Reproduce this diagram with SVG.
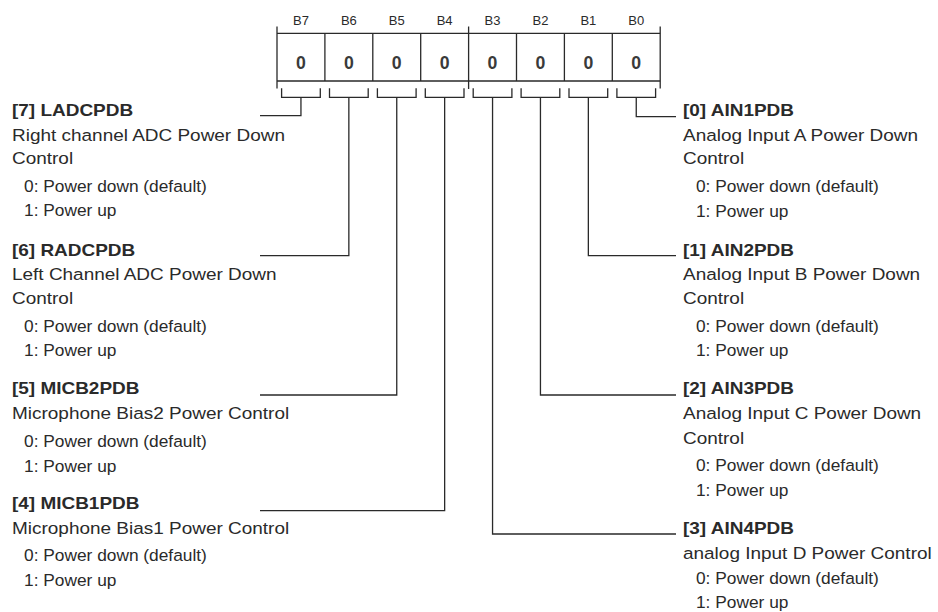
<svg xmlns="http://www.w3.org/2000/svg" width="938" height="612" viewBox="0 0 938 612">
<style>
  .ln { fill: none; stroke: #2a2a2a; stroke-width: 1.3; }
  .bl { font-family: "Liberation Sans", Arial, sans-serif; font-size: 13px; fill: #2a2a2a; text-anchor: middle; }
  .bv { font-family: "Liberation Sans", Arial, sans-serif; font-size: 19px; font-weight: bold; fill: #3a3a3a; text-anchor: middle; }
  .t { font-family: "Liberation Sans", Arial, sans-serif; font-size: 16.5px; font-weight: bold; fill: #2a2a2a; }
  .d { font-family: "Liberation Sans", Arial, sans-serif; font-size: 16.5px; fill: #2a2a2a; }
  .o { font-family: "Liberation Sans", Arial, sans-serif; font-size: 16.5px; fill: #2a2a2a; }
</style>
<rect width="938" height="612" fill="#ffffff"/>

<g id="register">
  <path class="ln" d="M277,33.3 H660.2 M277,81 H660.2"/>
  <path class="ln" d="M277,26.5 V88.5 M660.2,26.5 V88.5 M468.6,26.5 V89"/>
  <path class="ln" d="M324.9,33.3 V81 M372.8,33.3 V81 M420.7,33.3 V81 M516.5,33.3 V81 M564.4,33.3 V81 M612.3,33.3 V81"/>
  <g>
    <text class="bl" x="300.95" y="24.7">B7</text>
    <text class="bl" x="348.85" y="24.7">B6</text>
    <text class="bl" x="396.75" y="24.7">B5</text>
    <text class="bl" x="444.65" y="24.7">B4</text>
    <text class="bl" x="492.55" y="24.7">B3</text>
    <text class="bl" x="540.45" y="24.7">B2</text>
    <text class="bl" x="588.35" y="24.7">B1</text>
    <text class="bl" x="636.25" y="24.7">B0</text>
  </g>
  <g transform="scale(0.93 1)">
    <text class="bv" x="323.6" y="69">0</text>
    <text class="bv" x="375.1" y="69">0</text>
    <text class="bv" x="426.6" y="69">0</text>
    <text class="bv" x="478.1" y="69">0</text>
    <text class="bv" x="529.6" y="69">0</text>
    <text class="bv" x="581.1" y="69">0</text>
    <text class="bv" x="632.6" y="69">0</text>
    <text class="bv" x="684.1" y="69">0</text>
  </g>
  <path class="ln" d="M281.6,88.3 V97.3 H320.3 V88.3 M329.5,88.3 V97.3 H368.2 V88.3 M377.4,88.3 V97.3 H416.1 V88.3 M425.3,88.3 V97.3 H464 V88.3 M473.2,88.3 V97.3 H511.9 V88.3 M521.1,88.3 V97.3 H559.8 V88.3 M569,88.3 V97.3 H607.7 V88.3 M616.9,88.3 V97.3 H655.6 V88.3"/>
</g>

<g id="connectors">
  <path class="ln" d="M300.95,97.3 V115.7 H260"/>
  <path class="ln" d="M348.85,97.3 V255.7 H260"/>
  <path class="ln" d="M396.75,97.3 V395 H260"/>
  <path class="ln" d="M444.65,97.3 V510.7 H260"/>
  <path class="ln" d="M492.55,97.3 V534 H676"/>
  <path class="ln" d="M540.45,97.3 V395 H676"/>
  <path class="ln" d="M588.35,97.3 V255.7 H676"/>
  <path class="ln" d="M636.25,97.3 V116.7 H676"/>
</g>

<g id="field7">
  <g transform="scale(1.15 1)">
    <text class="t" x="10.43" y="116.5">[7] LADCPDB</text>
    <text class="d" x="10.43" y="141">Right channel ADC Power Down</text>
    <text class="d" x="10.43" y="164.3">Control</text>
  </g>
  <g transform="scale(1.05 1)">
    <text class="o" x="22.86" y="192.5">0: Power down (default)</text>
    <text class="o" x="22.86" y="216.5">1: Power up</text>
  </g>
</g>

<g id="field6">
  <g transform="scale(1.15 1)">
    <text class="t" x="10.43" y="256">[6] RADCPDB</text>
    <text class="d" x="10.43" y="280.5">Left Channel ADC Power Down</text>
    <text class="d" x="10.43" y="304">Control</text>
  </g>
  <g transform="scale(1.05 1)">
    <text class="o" x="22.86" y="331.7">0: Power down (default)</text>
    <text class="o" x="22.86" y="356">1: Power up</text>
  </g>
</g>

<g id="field5">
  <g transform="scale(1.15 1)">
    <text class="t" x="10.43" y="394.3">[5] MICB2PDB</text>
    <text class="d" x="10.43" y="419.3">Microphone Bias2 Power Control</text>
  </g>
  <g transform="scale(1.05 1)">
    <text class="o" x="22.86" y="447">0: Power down (default)</text>
    <text class="o" x="22.86" y="472.5">1: Power up</text>
  </g>
</g>

<g id="field4">
  <g transform="scale(1.15 1)">
    <text class="t" x="10.43" y="509.3">[4] MICB1PDB</text>
    <text class="d" x="10.43" y="534.3">Microphone Bias1 Power Control</text>
  </g>
  <g transform="scale(1.05 1)">
    <text class="o" x="22.86" y="561">0: Power down (default)</text>
    <text class="o" x="22.86" y="586.5">1: Power up</text>
  </g>
</g>

<g id="field0">
  <g transform="scale(1.15 1)">
    <text class="t" x="593.91" y="116.5">[0] AIN1PDB</text>
    <text class="d" x="593.91" y="141">Analog Input A Power Down</text>
    <text class="d" x="593.91" y="164.3">Control</text>
  </g>
  <g transform="scale(1.05 1)">
    <text class="o" x="662.86" y="192.5">0: Power down (default)</text>
    <text class="o" x="662.86" y="216.8">1: Power up</text>
  </g>
</g>

<g id="field1">
  <g transform="scale(1.15 1)">
    <text class="t" x="593.91" y="256">[1] AIN2PDB</text>
    <text class="d" x="593.91" y="280.5">Analog Input B Power Down</text>
    <text class="d" x="593.91" y="304">Control</text>
  </g>
  <g transform="scale(1.05 1)">
    <text class="o" x="662.86" y="331.7">0: Power down (default)</text>
    <text class="o" x="662.86" y="356">1: Power up</text>
  </g>
</g>

<g id="field2">
  <g transform="scale(1.15 1)">
    <text class="t" x="593.91" y="394.3">[2] AIN3PDB</text>
    <text class="d" x="593.91" y="419.3">Analog Input C Power Down</text>
    <text class="d" x="593.91" y="444.3">Control</text>
  </g>
  <g transform="scale(1.05 1)">
    <text class="o" x="662.86" y="471">0: Power down (default)</text>
    <text class="o" x="662.86" y="496">1: Power up</text>
  </g>
</g>

<g id="field3">
  <g transform="scale(1.15 1)">
    <text class="t" x="593.91" y="534.3">[3] AIN4PDB</text>
    <text class="d" x="593.91" y="558.6">analog Input D Power Control</text>
  </g>
  <g transform="scale(1.05 1)">
    <text class="o" x="662.86" y="584.5">0: Power down (default)</text>
    <text class="o" x="662.86" y="607.8">1: Power up</text>
  </g>
</g>
</svg>
